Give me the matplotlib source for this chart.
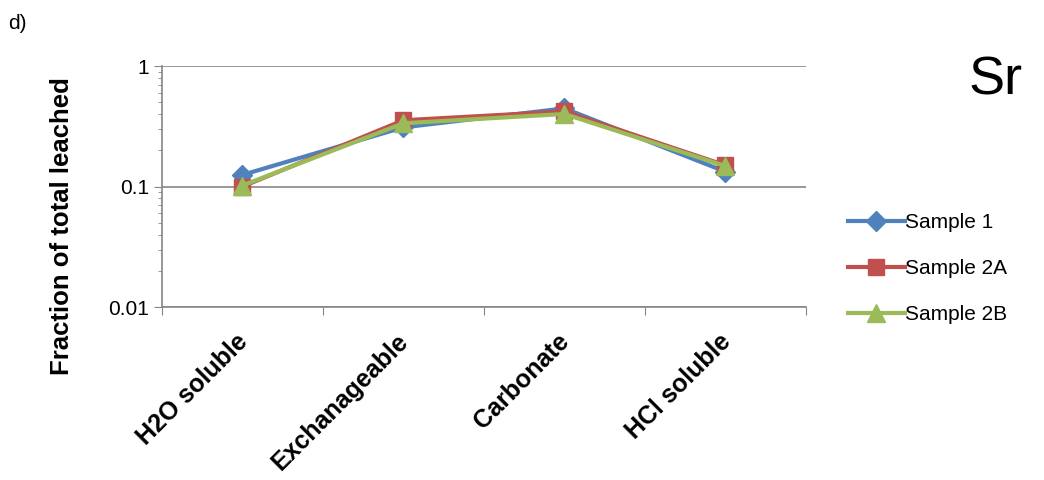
import numpy as np
import matplotlib
matplotlib.use('Agg')
import matplotlib.pyplot as plt
import matplotlib.transforms as mtransforms
from matplotlib.ticker import LogLocator, NullFormatter, FixedLocator

plt.rcParams['font.family'] = ['Liberation Sans', 'DejaVu Sans']

fractions = ['H2O soluble', 'Exchanageable', 'Carbonate', 'HCl soluble']
sample_1 = [0.125, 0.31, 0.445, 0.133]
sample_2a = [0.100, 0.355, 0.42, 0.150]
sample_2b = [0.102, 0.335, 0.40, 0.148]
y_ticks = [0.01, 0.1, 1]
y_tick_labels = ['0.01', '0.1', '1']

fig = plt.figure(figsize=(10.44, 4.8), dpi=100)
ax = fig.add_axes([0.155, 0.36, 0.617, 0.5025])

x = np.arange(len(fractions))
ax.plot(x, sample_1, color='#4F81BD', lw=3, marker='D', ms=10, label='Sample 1')
ax.plot(x, sample_2a, color='#C0504D', lw=3, marker='s', ms=12, label='Sample 2A')
ax.plot(x, sample_2b, color='#9BBB59', lw=3, marker='^', ms=13, label='Sample 2B')

ax.set_yscale('log')
ax.set_ylim(0.01, 1)
ax.set_xlim(-0.5, len(fractions) - 0.5)
ax.yaxis.set_major_locator(FixedLocator(y_ticks))
ax.set_yticklabels(y_tick_labels, fontsize=15)
ax.yaxis.set_minor_locator(LogLocator(base=10, subs=np.arange(2, 10)))
ax.yaxis.set_minor_formatter(NullFormatter())
ax.tick_params(axis='y', which='major', length=6, color='#868686', pad=3)
ax.tick_params(axis='y', which='minor', length=3, color='#868686')
ax.grid(axis='y', which='major', color='#868686', lw=1.2)
ax.set_axisbelow(True)

# category separators on the x axis
ax.set_xticks(np.arange(len(fractions) + 1) - 0.5)
ax.set_xticklabels([])
ax.set_xticks(x, minor=True)
ax.set_xticklabels(fractions, minor=True, rotation=45, ha='right',
                   rotation_mode='anchor', fontsize=18, fontweight='bold')
ax.tick_params(axis='x', which='major', length=6, color='#868686')
ax.tick_params(axis='x', which='minor', length=0, pad=16)
shift = mtransforms.ScaledTranslation(-5 / 72, 0, fig.dpi_scale_trans)
for lbl in ax.get_xticklabels(minor=True):
    lbl.set_transform(lbl.get_transform() + shift)

for side in ['top', 'right']:
    ax.spines[side].set_visible(False)
for side in ['left', 'bottom']:
    ax.spines[side].set_color('#868686')
    ax.spines[side].set_linewidth(1.2)

ax.set_ylabel('Fraction of total leached', fontsize=18.5, fontweight='bold')
ax.yaxis.set_label_coords(-0.136, 0.336)

fig.text(0.008, 0.952, 'd)', fontsize=15, va='center')
fig.text(0.928, 0.833, 'Sr', fontsize=39, ha='left', va='center')

fig.legend(loc='center left', bbox_to_anchor=(0.812, 0.440), frameon=False,
           fontsize=15, handlelength=2.75, handletextpad=0.0, labelspacing=1.3,
           borderpad=0, borderaxespad=0)

fig.savefig('out.png', dpi=100)
